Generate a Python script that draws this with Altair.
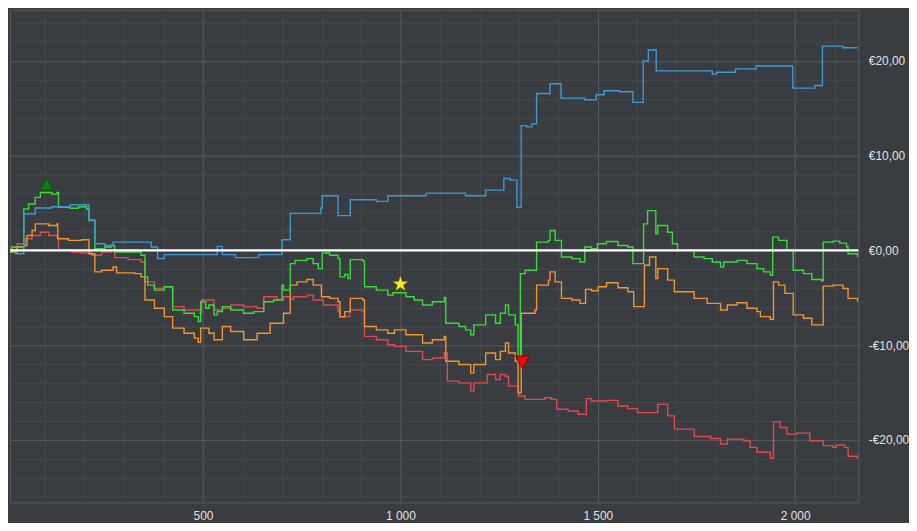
import altair as alt
import pandas as pd

# ---------------- data (x = trade index, y = euros) ----------------
blue_x = [3, 25, 46, 75, 117, 163, 211, 226, 251, 272, 369, 385, 402, 536, 549, 582, 641, 700,
          721, 798, 802, 842, 873, 939, 968, 1065, 1165, 1216, 1262, 1278, 1295, 1306, 1320, 1333,
          1345, 1379, 1407, 1467, 1496, 1516, 1555, 1589, 1615, 1628, 1648, 1790, 1801, 1849, 1901,
          1994, 2050, 2069, 2121, 2158]
blue_y = [0.0, -0.35, 3.84, 4.47, 4.61, 4.82, 3.21, 0.70, 0.52, 0.87, 0.35, -0.87, -0.45, 0.42, -0.45,
          -0.77, -0.45, 1.12, 3.91, 4.47, 5.77, 3.67, 5.35, 5.17, 5.77, 6.04, 5.77, 6.36, 7.58, 7.41,
          4.54, 13.17, 13.03, 13.35, 16.56, 17.58, 16.07, 15.90, 16.42, 16.84, 16.74, 15.62, 19.99,
          21.14, 18.94, 18.62, 18.80, 19.15, 19.46, 17.12, 17.40, 21.56, 21.38, 21.38]

green_x = [3, 16, 46, 58, 75, 88, 117, 130, 134, 163, 184, 205, 211, 226, 251, 268, 276, 343, 353,
           360, 377, 402, 423, 452, 478, 488, 494, 507, 515, 528, 536, 549, 570, 603, 629, 654, 679,
           700, 704, 721, 733, 763, 779, 792, 802, 821, 842, 847, 859, 867, 873, 905, 909, 939, 968,
           981, 1014, 1035, 1056, 1081, 1111, 1115, 1148, 1165, 1178, 1186, 1216, 1241, 1253, 1266,
           1274, 1291, 1298, 1304, 1316, 1345, 1375, 1379, 1392, 1408, 1434, 1455, 1467, 1484, 1499,
           1522, 1551, 1576, 1589, 1616, 1626, 1647, 1652, 1677, 1689, 1702, 1744, 1769, 1790, 1811,
           1819, 1853, 1878, 1903, 1920, 1937, 1943, 1958, 1979, 1995, 2021, 2042, 2067, 2071, 2096,
           2113, 2130, 2134, 2158]
green_y = [-0.17, 0.35, 4.37, 4.89, 5.59, 6.11, 5.94, 6.11, 4.54, 4.44, 4.61, 4.37, 3.14, 0.17, 0.35,
           0.52, -0.17, -0.52, -2.80, -3.67, -4.19, -3.84, -6.29, -6.64, -6.99, -7.51, -5.42, -6.11,
           -5.77, -6.81, -6.46, -5.94, -6.29, -6.64, -6.46, -5.42, -5.24, -3.67, -4.19, -1.40, -1.05,
           -0.87, -1.40, -1.92, -0.28, -0.52, -0.87, -2.80, -2.55, -2.97, -0.98, -1.12, -3.84, -4.19,
           -4.72, -4.47, -4.89, -5.24, -5.77, -5.42, -4.96, -7.69, -8.04, -8.39, -8.91, -7.86, -6.81,
           -7.69, -6.64, -5.77, -6.81, -7.86, -11.18, -2.45, -2.10, 0.87, 1.05, 2.10, 1.05, -0.70,
           -0.87, -1.22, 0.35, 0.17, 0.70, 0.94, 0.52, 0.35, -1.40, 2.80, 4.19, 1.75, 2.62, 1.92, 0.70,
           0.0, -0.70, -0.87, -1.22, -1.75, -1.22, -1.05, -1.40, -1.92, -2.27, -2.62, 1.40, 1.05, 0.0,
           -2.10, -2.45, -3.07, -3.21, 0.87, 0.98, 0.77, 0.35, -0.35, -0.70]

orange_x = [3, 29, 46, 54, 67, 75, 109, 130, 132, 159, 192, 211, 226, 243, 272, 281, 327, 343, 353,
            377, 402, 423, 452, 478, 488, 494, 515, 528, 549, 570, 603, 637, 670, 704, 721, 738, 763,
            779, 800, 821, 842, 847, 859, 873, 905, 909, 939, 968, 985, 1014, 1056, 1081, 1111, 1115,
            1148, 1178, 1186, 1216, 1241, 1253, 1266, 1274, 1291, 1298, 1306, 1341, 1345, 1375, 1379,
            1392, 1408, 1434, 1455, 1469, 1484, 1501, 1522, 1551, 1576, 1591, 1618, 1631, 1647, 1652,
            1677, 1694, 1744, 1777, 1811, 1828, 1853, 1878, 1903, 1912, 1937, 1945, 1958, 1974, 1995,
            2021, 2042, 2071, 2096, 2121, 2134, 2158]
orange_y = [-0.17, 0.35, 0.52, 1.57, 2.10, 2.80, 2.62, 2.80, 1.22, 1.05, 1.12, -0.35, -2.27, -2.10,
            -1.75, -2.38, -2.45, -2.80, -5.24, -6.11, -6.99, -8.21, -8.74, -9.26, -9.71, -8.21, -8.74,
            -9.43, -8.04, -8.56, -9.43, -8.74, -7.69, -6.64, -3.67, -3.32, -3.07, -3.67, -4.89, -5.07,
            -5.42, -7.00, -6.46, -5.07, -5.24, -8.04, -8.39, -8.74, -8.39, -8.91, -9.78, -9.43, -9.08,
            -11.70, -12.05, -12.93, -12.05, -10.83, -11.53, -10.66, -9.78, -10.83, -11.70, -15.02,
            -6.64, -6.29, -3.67, -3.14, -2.27, -3.32, -5.07, -5.24, -5.59, -4.12, -4.26, -3.84, -3.42,
            -3.95, -4.37, -5.94, -1.57, -0.70, -2.97, -1.92, -3.14, -4.37, -5.07, -5.59, -6.29, -5.77,
            -5.52, -6.11, -6.46, -6.99, -7.27, -3.32, -3.67, -4.54, -6.81, -7.16, -7.86, -3.77, -3.67,
            -4.02, -5.07, -5.42]

red_x = [3, 16, 29, 50, 67, 88, 109, 130, 134, 167, 192, 218, 243, 268, 276, 310, 343, 353, 377,
         402, 423, 452, 493, 496, 528, 549, 570, 603, 637, 654, 687, 704, 721, 729, 763, 779, 805,
         842, 847, 872, 905, 909, 939, 968, 985, 1014, 1056, 1081, 1111, 1119, 1148, 1178, 1186,
         1220, 1241, 1253, 1266, 1274, 1299, 1316, 1366, 1383, 1396, 1425, 1450, 1471, 1484, 1522,
         1551, 1576, 1601, 1652, 1677, 1694, 1744, 1786, 1811, 1828, 1870, 1886, 1903, 1937, 1945,
         1962, 1979, 2004, 2037, 2071, 2096, 2104, 2125, 2134, 2158]
red_y = [-0.17, 0.35, 0.70, 1.22, 1.57, 1.92, 1.57, 1.40, 0.07, -0.17, -0.28, -0.52, -0.17, 0.0,
         -0.77, -0.98, -1.22, -3.32, -4.02, -3.84, -5.94, -6.29, -6.64, -5.24, -6.29, -6.11, -5.77,
         -5.94, -6.11, -4.89, -5.24, -4.89, -5.17, -4.89, -4.72, -5.24, -5.77, -6.46, -6.99, -6.29,
         -6.46, -9.08, -9.43, -9.96, -10.13, -10.66, -11.53, -11.36, -10.83, -13.80, -13.98, -14.85,
         -13.98, -13.10, -13.63, -13.10, -13.28, -14.33, -15.37, -15.72, -15.55, -15.72, -16.77,
         -16.95, -17.30, -15.65, -15.90, -15.83, -16.42, -16.70, -17.12, -16.25, -17.47, -18.87,
         -19.64, -19.85, -20.44, -19.92, -20.09, -20.79, -21.31, -21.94, -18.10, -18.69, -19.39,
         -19.29, -20.09, -20.61, -20.79, -20.54, -20.79, -21.73, -22.01]

series_names = ["red", "orange", "green", "blue"]
series_colors = ["#e04a4f", "#f0952f", "#3bd93b", "#3d9ad6"]

# markers: best, current, worst
marker_x = [104, 1000, 1309]
marker_y = [7.0, -3.56, -11.8]

x_grid = list(range(100, 2200, 100))
y_grid = list(range(-26, 26, 2))

BG = "#393c40"
GRID_MINOR = "#46494d"
GRID_MAJOR = "#5a5d61"

# ---------------- chart ----------------
x_axis = alt.Axis(
    values=x_grid,
    labelExpr="datum.value % 500 === 0 ? replace(format(datum.value, ','), ',', ' ') : ''",
    grid=True,
    gridColor={"condition": {"test": "datum.value % 500 === 0", "value": GRID_MAJOR}, "value": GRID_MINOR},
    tickColor=GRID_MINOR,
    tickSize=4,
    labelPadding=4,
    domain=False,
    title=None,
    labelOverlap=False,
)
y_axis = alt.Axis(
    orient="right",
    values=y_grid,
    labelExpr="datum.value % 10 === 0 ? (datum.value < 0 ? '-€' : '€') + replace(format(abs(datum.value), '.2f'), '.', ',') : ''",
    grid=True,
    gridColor={"condition": {"test": "datum.value % 10 === 0", "value": GRID_MAJOR}, "value": GRID_MINOR},
    tickColor=GRID_MINOR,
    tickSize=4,
    labelPadding=6,
    domain=False,
    title=None,
    labelOverlap=False,
)
xs = alt.Scale(domain=[11, 2160], nice=False, zero=False)
ys = alt.Scale(domain=[-26.6, 25.4], nice=False, zero=False)

def xe():
    return alt.X("x:Q", scale=xs, axis=x_axis)

def ye():
    return alt.Y("y:Q", scale=ys, axis=y_axis)

data = {
    "red": (red_x, red_y),
    "orange": (orange_x, orange_y),
    "green": (green_x, green_y),
    "blue": (blue_x, blue_y),
}

layers = []
for name, col in zip(series_names, series_colors):
    sx, sy = data[name]
    d = pd.DataFrame({"x": sx, "y": sy})
    layers.append(
        alt.Chart(d).mark_line(interpolate="step-after", strokeWidth=1.4, color=col, clip=True)
        .encode(x=xe(), y=ye())
    )

zero = alt.Chart(pd.DataFrame({"y": [0.0]})).mark_rule(color="white", strokeWidth=2.5).encode(y=ye())
layers.append(zero)

mk = pd.DataFrame({"x": marker_x, "y": marker_y})
best = alt.Chart(mk.iloc[[0]]).mark_point(shape="triangle-up", filled=True, size=190,
                                           fill="#0d800d", stroke="#075407", strokeWidth=1, opacity=1
                                           ).encode(x=xe(), y=ye())
star = alt.Chart(mk.iloc[[1]]).mark_point(shape="M0,-1L0.2245,-0.309L0.951,-0.309L0.3633,0.118L0.5878,0.809L0,0.382L-0.5878,0.809L-0.3633,0.118L-0.951,-0.309L-0.2245,-0.309Z",
                                           filled=True, size=230, fill="#ffee22", stroke="#c9b800",
                                           strokeWidth=0.5, opacity=1).encode(x=xe(), y=ye())
worst = alt.Chart(mk.iloc[[2]]).mark_point(shape="triangle-down", filled=True, size=210,
                                            fill="#ee0a0a", stroke="#8a0000", strokeWidth=1, opacity=1
                                            ).encode(x=xe(), y=ye())
layers += [best, star, worst]

chart = alt.layer(*layers).properties(
    width=854,
    height=496,
    padding=0,
    background=BG,
    usermeta={"embedOptions": {"defaultStyle": "html,body{background:%s;overflow:hidden;}" % BG}},
).configure_view(
    stroke="#595c60", strokeWidth=1
).configure_axis(
    labelColor="#e2e2e2", labelFont="Liberation Sans", labelFontSize=12
)

chart.save("out.html", embed_options={"renderer": "svg", "actions": False})
